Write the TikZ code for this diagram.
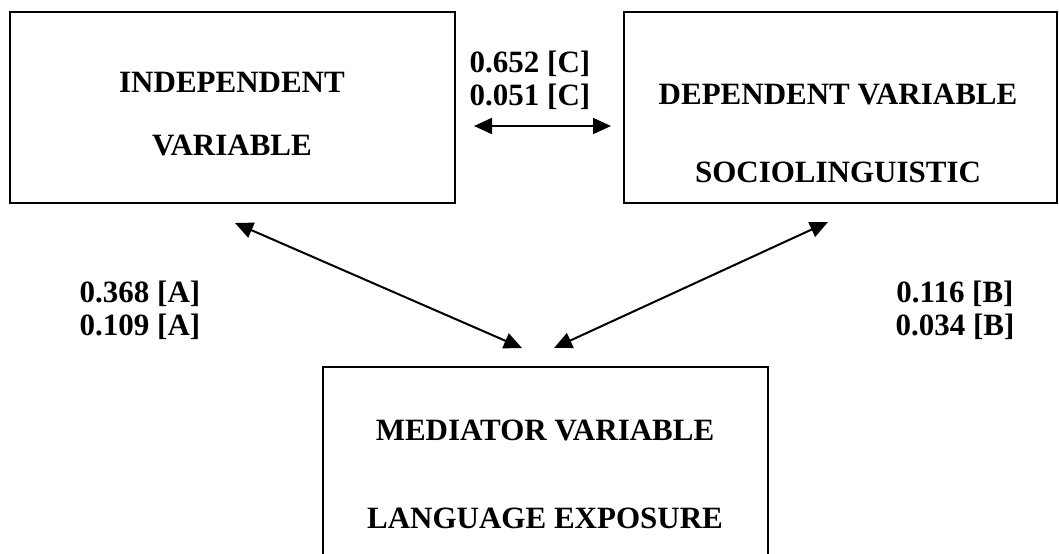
\documentclass[tikz,border=0pt]{standalone}
\usepackage{fontspec}
\setmainfont{Liberation Serif}
\usetikzlibrary{arrows.meta}

\tikzset{
  box/.style={draw, line width=1pt, inner sep=0pt},
  txt/.style={font=\fontsize{15.5}{16.5}\selectfont\bfseries, align=center},
  link/.style={line width=1pt, {Triangle[length=9pt,width=8pt]}-{Triangle[length=9pt,width=8pt]}}
}

\begin{document}
\begin{tikzpicture}[x=0.5pt,y=-0.5pt]
\useasboundingbox (0,0) rectangle (1059,553);
\clip (0,0) rectangle (1059,553);
% the three boxes
\node[box, minimum width=222.5pt, minimum height=95.5pt] (indep) at (232.5,107.5) {};
\node[box, minimum width=216.5pt, minimum height=95.5pt] (dep) at (840.5,107.5) {};
\node[box, minimum width=222.5pt, minimum height=120pt] (med) at (545.5,487) {};
% box texts
\node[txt] (indep1) at (232,82) {INDEPENDENT};
\node[txt] (indep2) at (232,145) {VARIABLE};
\node[txt] (dep1) at (838,94) {DEPENDENT VARIABLE};
\node[txt] (dep2) at (838,172) {SOCIOLINGUISTIC};
\node[txt] (med1) at (545,430) {MEDIATOR VARIABLE};
\node[txt] (med2) at (545,518) {LANGUAGE EXPOSURE};
% arrow ends
\coordinate (c1) at (474,126);
\coordinate (c2) at (611,126);
\coordinate (a1) at (235,223);
\coordinate (a2) at (522,348);
\coordinate (b1) at (828,222);
\coordinate (b2) at (554,348);
\draw[link] (c1) -- (c2);
\draw[link] (a1) -- (a2);
\draw[link] (b1) -- (b2);
% coefficients
\node[txt] (coefC) at (530,80.5) {0.652 [C]\\0.051 [C]};
\node[txt] (coefA) at (140,310) {0.368 [A]\\0.109 [A]};
\node[txt] (coefB) at (955,310) {0.116 [B]\\0.034 [B]};
\end{tikzpicture}
\end{document}
